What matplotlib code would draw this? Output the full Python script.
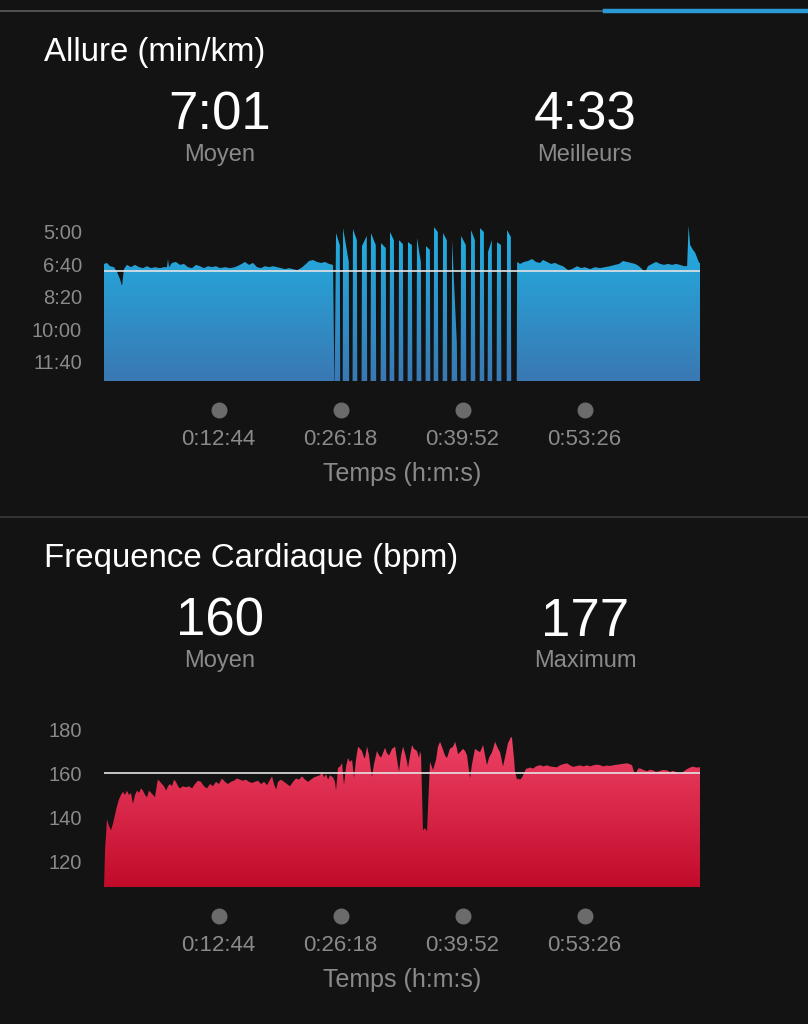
import numpy as np
import matplotlib
matplotlib.use("Agg")
import matplotlib.pyplot as plt
from matplotlib.colors import LinearSegmentedColormap
from matplotlib.patches import PathPatch

plt.rcParams['font.family'] = ['Liberation Sans', 'DejaVu Sans']

# ---------------- data ----------------
# time axis (seconds)
time_ticks = [764, 1578, 2392, 3206]
time_tick_labels = ["0:12:44", "0:26:18", "0:39:52", "0:53:26"]
time_max = 3976

# Pace (seconds per km); values beyond 759 are off the chart (stopped / walking)
pace_t = [0, 20, 40, 67, 87, 107, 120, 133, 153, 180, 207, 234, 260, 287, 314, 340, 374, 400, 420, 427, 434,
          454, 480, 507, 534, 560, 587, 614, 640, 667, 694, 721, 747, 774, 807, 841, 874, 907, 941, 967, 994,
          1021, 1047, 1074, 1101, 1128, 1154, 1181, 1208, 1234, 1261, 1288, 1314, 1341, 1368, 1394, 1421,
          1448, 1475, 1501, 1528,
          1538, 1548, 1573, 1576, 1592, 1595, 1633, 1636, 1658, 1661, 1687, 1690, 1718, 1721, 1753, 1756,
          1778, 1781, 1813, 1816, 1845, 1848, 1880, 1883, 1905, 1908, 1934, 1937, 1965, 1968, 1994, 1997,
          2025, 2028, 2054, 2057, 2085, 2088, 2114, 2117, 2145, 2148, 2174, 2177, 2199, 2202, 2227, 2230,
          2259, 2262, 2287, 2290, 2319, 2322, 2354, 2357, 2379, 2382, 2414, 2417, 2446, 2449, 2474, 2477,
          2506, 2509, 2534, 2537, 2559, 2562, 2587, 2590, 2619, 2622, 2648, 2651, 2686, 2689, 2714, 2717,
          2753,
          2756, 2776, 2802, 2829, 2856, 2882, 2909, 2929, 2956, 2982, 3009, 3036, 3062, 3096, 3122, 3156,
          3183, 3209, 3243, 3276, 3309, 3343, 3376, 3409, 3436, 3463, 3489, 3516, 3543, 3569, 3596, 3610,
          3629, 3656, 3683, 3710, 3736, 3763, 3790, 3817, 3843, 3870, 3890, 3900, 3910, 3924, 3944, 3970, 3976]
pace_v = [399, 396, 406, 409, 424, 446, 467, 415, 402, 409, 402, 409, 412, 406, 412, 409, 412, 409, 409, 384, 409,
          396, 393, 402, 399, 409, 412, 402, 406, 412, 406, 409, 406, 412, 409, 412, 409, 402, 393, 402, 396,
          409, 412, 406, 409, 406, 409, 412, 415, 412, 415, 418, 412, 402, 390, 387, 393,
          396, 393, 399, 402,
          800, 304, 341, 800, 800, 289, 393, 800, 800, 292, 326, 800, 800, 344, 313, 800,
          800, 304, 341, 800, 800, 335, 350, 800, 800, 301, 326, 800, 800, 326, 338, 800,
          800, 332, 341, 800, 800, 319, 393, 800, 800, 344, 356, 800, 800, 286, 301, 800,
          800, 304, 326, 800, 800, 326, 642, 800, 800, 313, 341, 800, 800, 295, 326, 800,
          800, 289, 301, 800, 800, 362, 326, 800, 800, 332, 341, 800, 800, 295, 316, 800,
          800,
          393, 399, 393, 390, 384, 393, 396, 387, 393, 399, 396, 402, 406, 418, 415, 406,
          412, 409, 415, 409, 412, 409, 406, 402, 399, 390, 393, 396, 399, 406, 418, 424,
          406, 399, 393, 399, 402, 399, 402, 399, 402, 406, 406, 282, 340, 352, 365, 396, 396]
pace_ticks = [300, 400, 500, 600, 700]
pace_tick_labels = ["5:00", "6:40", "8:20", "10:00", "11:40"]
pace_avg = 421
pace_stats = ["7:01", "4:33"]
pace_stat_labels = ["Moyen", "Meilleurs"]

# Heart rate (bpm)
hr_t = [0, 7, 20, 33, 47, 60, 73, 87, 100, 113, 127, 140, 153, 167, 180, 193, 207, 220, 234, 247, 260, 274,
        287, 300, 314, 327, 340, 354, 360, 374, 387, 400, 414, 427, 440, 454, 467, 480, 494, 507, 527, 547,
        567, 587, 607, 627, 647, 667, 687, 707, 727, 747, 767, 787, 807, 827, 847, 867, 887, 907, 927, 947,
        967, 987, 1007, 1027, 1048, 1068, 1088, 1108, 1121, 1134, 1148, 1161, 1181, 1201, 1221, 1241, 1261,
        1281, 1301, 1321, 1341, 1361, 1381, 1401, 1421, 1441, 1455, 1468, 1481, 1495, 1508, 1528,
        1541, 1548, 1561, 1575, 1588, 1601, 1615, 1628, 1641, 1655, 1668, 1681, 1695, 1708, 1721, 1735,
        1741, 1755, 1768, 1781, 1788, 1801, 1821, 1835, 1848, 1861, 1875, 1888, 1902, 1922, 1942, 1955,
        1968, 1982, 1995, 2008, 2022, 2028, 2042, 2055, 2068, 2088, 2102, 2108, 2115, 2122, 2128, 2142,
        2155, 2162, 2175, 2195, 2215, 2228, 2242, 2262, 2275, 2288, 2308, 2329, 2342, 2355, 2362, 2382,
        2395, 2409, 2422, 2429, 2442, 2455, 2475, 2495, 2509, 2529, 2542, 2555, 2569, 2589, 2609, 2629,
        2642, 2662, 2675, 2695, 2716, 2722, 2736, 2742, 2756, 2762, 2776, 2789,
        2802, 2816, 2829, 2842, 2862, 2882, 2909, 2929, 2956, 2976, 2996, 3022, 3042, 3062, 3089, 3109,
        3129, 3156, 3176, 3196, 3223, 3243, 3263, 3289, 3309, 3329, 3356, 3376, 3396, 3423, 3443, 3463,
        3489, 3509, 3523, 3536, 3550, 3563, 3576, 3596, 3623, 3643, 3663, 3683, 3710, 3730, 3756, 3776,
        3796, 3816, 3843, 3863, 3890, 3910, 3930, 3950, 3970, 3976]
hr_v = [108, 125, 139, 136, 134, 137, 141, 145, 148, 150, 151.5, 150, 152, 150, 151, 146, 150, 152, 151, 153,
        152, 150, 149, 152, 151, 150, 149, 155, 157, 156, 155, 154, 152, 154, 155, 154, 157, 156, 154, 153,
        154, 153.5, 154, 153, 155, 156.5, 156, 154, 153, 155, 154, 156, 155, 157.5, 156, 155, 156, 156.5,
        157.5, 157, 156.5, 157, 156, 155.5, 156, 156.5, 155, 156, 154.5, 157, 158.5, 155, 152.5, 156, 157,
        156, 155, 154, 156, 157.5, 157, 158.5, 157, 156, 157, 158, 158.5, 159, 160.5, 158, 159.5, 157, 159, 158,
        156, 152, 162.3, 163, 164.5, 154.5, 163, 166.8, 165, 166, 157.7, 166, 172, 171, 170, 167,
        166.7, 172, 168, 161, 158.3, 164, 170, 168, 167, 169, 171.5, 169, 168, 171, 172, 166,
        160.6, 168, 172, 169, 165, 162.3, 168, 172.7, 171, 170, 166.7, 170, 168, 150, 134, 135,
        133.5, 145, 165, 161.4, 166, 172, 174.2, 170.5, 168, 166.8, 171, 172, 174.2, 171, 168.5, 170,
        171, 170, 168, 164, 157.7, 164, 171, 170, 169.5, 172.7, 168, 163.6, 167, 169.5, 174.2, 171,
        169.5, 163, 167, 173.5, 176.5, 175.8, 166, 160.6, 157, 157.5, 157, 158,
        160, 162, 162.1, 162.5, 162, 163, 163.6, 163, 163.5, 163, 162.8, 162.6, 163.5, 164, 164.4, 163.5,
        162.8, 163.2, 163.5, 163, 163.5, 163, 163.5, 163.8, 163.6, 163, 163.4, 163.2, 163.5, 163.8, 164, 164.2,
        164.4, 164, 163.5, 160.5, 160.1, 162, 162.1, 161.5, 160.8, 161.5, 161.2, 160.5, 161, 161.4, 161.2, 160.5,
        161, 160.5, 159.5, 160.5, 161.8, 162.5, 162.9, 162.5, 162.6, 162.6]
hr_ticks = [120, 140, 160, 180]
hr_tick_labels = ["120", "140", "160", "180"]
hr_avg = 160
hr_stats = ["160", "177"]
hr_stat_labels = ["Moyen", "Maximum"]

# ---------------- drawing ----------------
W, H = 808, 1024
BG = '#131313'
GRAY_TXT = '#8a8a8a'
fig = plt.figure(figsize=(W / 100, H / 100), dpi=100, facecolor=BG)


def fx(x):
    return x / W


def fy(y):
    return 1 - y / H


# top indicator bar
fig.add_artist(plt.Line2D([0, fx(605)], [fy(11), fy(11)], color='#5c5c5c', lw=1.2))
fig.add_artist(plt.Line2D([fx(605), 1], [fy(10.5), fy(10.5)], color='#2a9ad6', lw=3.2))
# separator
fig.add_artist(plt.Line2D([0, 1], [fy(517), fy(517)], color='#3a3a3a', lw=1.2))


def panel(off, title, stats, stat_labels, t, v, ylim, yticks, yticklabels, avg, c_top, c_bot, top_px, bot_px):
    fig.text(fx(44), fy(61 + off), title, color='white', fontsize=23.8, ha='left', va='baseline')
    for cx, s, lab in zip([220, 585], stats, stat_labels):
        fig.text(fx(cx), fy(130 + off), s, color='white', fontsize=38, ha='center', va='baseline')
        fig.text(fx(cx), fy(161 + off), lab, color=GRAY_TXT, fontsize=17, ha='center', va='baseline')

    ax = fig.add_axes([fx(104), fy(bot_px + off), (700 - 104) / W, (bot_px - top_px) / H])
    ax.set_facecolor(BG)
    for sp in ax.spines.values():
        sp.set_visible(False)

    poly = ax.fill_between(t, v, ylim[0], facecolor='none', edgecolor='none')
    path = poly.get_paths()[0]
    patch = PathPatch(path, facecolor='none', edgecolor='none', transform=ax.transData)
    ax.add_patch(patch)
    cmap = LinearSegmentedColormap.from_list('g', [c_top, c_bot])
    grad = np.linspace(0, 1, 256).reshape(-1, 1)
    im = ax.imshow(grad, extent=(0, time_max, ylim[0], ylim[1]), origin='upper', aspect='auto',
                   cmap=cmap, interpolation='bilinear', zorder=1)
    im.set_clip_path(patch)

    ax.axhline(avg, color='#e4e4e4', lw=1.2, zorder=3)

    ax.set_xlim(0, time_max)
    ax.set_ylim(*ylim)
    ax.set_yticks(yticks)
    ax.set_yticklabels(yticklabels)
    ax.tick_params(axis='y', length=0, pad=16, labelcolor=GRAY_TXT, labelsize=14.5)
    ax.set_xticks([])

    h = bot_px - top_px
    tr = ax.get_xaxis_transform()
    ax.plot(time_ticks, [-29 / h] * len(time_ticks), 'o', color='#6b6b6b', markersize=10.5,
            transform=tr, clip_on=False)
    for tt, lab in zip(time_ticks, time_tick_labels):
        ax.text(tt, -64 / h, lab, transform=tr, color=GRAY_TXT, fontsize=16, ha='center', va='baseline')
    fig.text(fx(402), fy(481 + off), "Temps (h:m:s)", color=GRAY_TXT, fontsize=18, ha='center', va='baseline')
    return ax


panel(0, "Allure (min/km)", pace_stats, pace_stat_labels, pace_t, pace_v, (759, 264),
      pace_ticks, pace_tick_labels, pace_avg, '#1fb3e6', '#3a78b2', 220, 381)
panel(506, "Frequence Cardiaque (bpm)", hr_stats, hr_stat_labels, hr_t, hr_v, (108.2, 184.1),
      hr_ticks, hr_tick_labels, hr_avg, '#f2486c', '#c20b2a', 214, 381)

fig.savefig('out.png', dpi=100, facecolor=BG)
